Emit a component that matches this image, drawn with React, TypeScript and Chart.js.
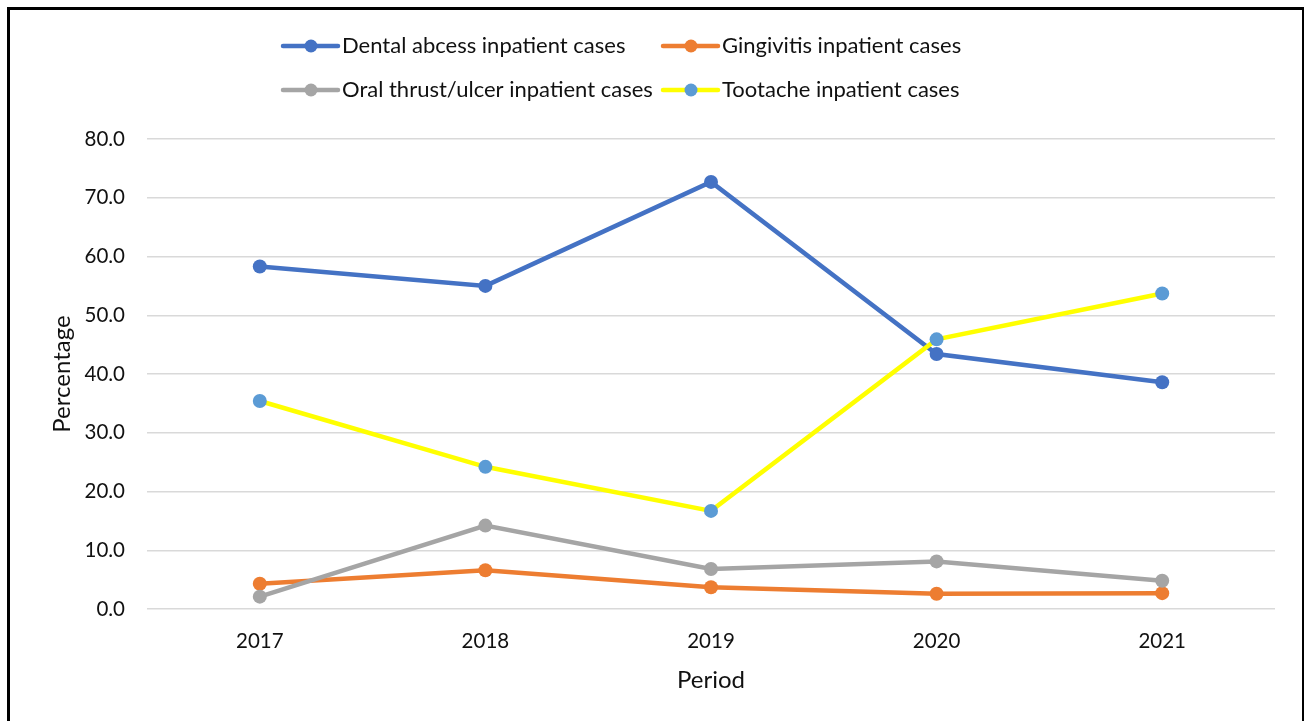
import React, { useEffect, useRef } from "react";
import { Chart, registerables } from "chart.js";

Chart.register(...registerables);

const categories = ["2017", "2018", "2019", "2020", "2021"];
const dentalAbscess = [58.3, 55.0, 72.7, 43.4, 38.6];
const gingivitis = [4.3, 6.6, 3.7, 2.6, 2.7];
const oralThrust = [2.1, 14.2, 6.8, 8.1, 4.8];
const toothache = [35.4, 24.2, 16.7, 45.9, 53.7];
const seriesLabels = [
  "Dental abcess inpatient cases",
  "Gingivitis inpatient cases",
  "Oral thrust/ulcer inpatient cases",
  "Tootache inpatient cases",
];
const yTicks = [0, 10, 20, 30, 40, 50, 60, 70, 80];

const FONT = "Lato, 'Liberation Sans', sans-serif";

const legendPlugin = {
  id: "gridLegend",
  afterDraw(chart: any) {
    const ctx = chart.ctx;
    const cols = [283, 663];
    const rows = [46, 90];
    chart.data.datasets.forEach((ds: any, i: number) => {
      const x = cols[i % 2];
      const y = rows[Math.floor(i / 2)];
      ctx.save();
      ctx.strokeStyle = ds.borderColor;
      ctx.lineWidth = 4.5;
      ctx.lineCap = "round";
      ctx.beginPath();
      ctx.moveTo(x, y);
      ctx.lineTo(x + 55, y);
      ctx.stroke();
      ctx.fillStyle = ds.pointBackgroundColor;
      ctx.beginPath();
      ctx.arc(x + 28, y, 6.5, 0, Math.PI * 2);
      ctx.fill();
      ctx.fillStyle = "#111";
      ctx.font = `22px ${FONT}`;
      ctx.textBaseline = "middle";
      ctx.textAlign = "left";
      ctx.fillText(ds.label, x + 59, y);
      ctx.restore();
    });
  },
};

export default function App() {
  const ref = useRef<HTMLCanvasElement>(null);
  useEffect(() => {
    if (!ref.current) return;
    const mk = (label: string, data: number[], line: string, pt: string, order: number) => ({
      label,
      data,
      borderColor: line,
      backgroundColor: pt,
      pointBackgroundColor: pt,
      pointBorderColor: pt,
      pointRadius: 7,
      pointBorderWidth: 0,
      borderWidth: 4.5,
      tension: 0,
      order,
    });
    const chart = new Chart(ref.current, {
      type: "line",
      data: {
        labels: categories,
        datasets: [
          mk(seriesLabels[0], dentalAbscess, "#4472C4", "#4472C4", 3),
          mk(seriesLabels[1], gingivitis, "#ED7D31", "#ED7D31", 2),
          mk(seriesLabels[2], oralThrust, "#A5A5A5", "#A5A5A5", 1),
          mk(seriesLabels[3], toothache, "#FFFF00", "#5B9BD5", 0),
        ],
      },
      options: {
        responsive: false,
        animation: false,
        layout: { padding: { top: 139, right: 31, left: 0, bottom: 0 } },
        plugins: { legend: { display: false }, tooltip: { enabled: false } },
        scales: {
          x: {
            offset: true,
            grid: { display: false },
            border: { display: false },
            ticks: { color: "#111", font: { family: FONT, size: 20.5 }, padding: 12 },
            title: {
              display: true,
              text: "Period",
              color: "#111",
              font: { family: FONT, size: 24 },
              padding: { top: 0, bottom: 26 },
            },
            afterFit: (s: any) => {
              s.height = 112;
            },
          },
          y: {
            min: 0,
            max: 80,
            afterBuildTicks: (s: any) => {
              s.ticks = yTicks.map((v) => ({ value: v }));
            },
            grid: { color: "#D9D9D9", lineWidth: 1.5, drawTicks: false },
            border: { display: false },
            ticks: {
              color: "#111",
              font: { family: FONT, size: 20.5 },
              padding: 22,
              callback: (v: any) => Number(v).toFixed(1),
            },
            title: {
              display: true,
              text: "Percentage",
              color: "#111",
              font: { family: FONT, size: 24 },
              padding: { top: 48, bottom: 0 },
            },
            afterFit: (s: any) => {
              s.width = 147;
            },
          },
        },
      },
      plugins: [legendPlugin],
    });
    return () => chart.destroy();
  }, []);
  return (
    <>
      <div
        style={{
          position: "fixed",
          left: 7,
          top: 7,
          right: 2,
          bottom: -20,
          borderTop: "3px solid #000",
          borderLeft: "3px solid #000",
          borderRight: "2px solid #000",
          background: "#fff",
        }}
      />
      <canvas
        ref={ref}
        width={1306}
        height={721}
        style={{ position: "fixed", left: 0, top: 0, width: 1306, height: 721 }}
      />
    </>
  );
}
